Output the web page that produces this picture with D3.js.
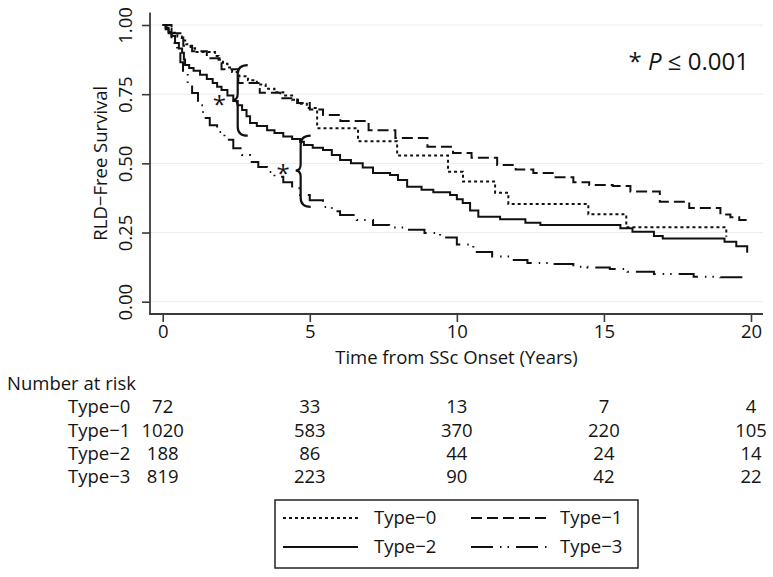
<!DOCTYPE html>
<html><head><meta charset="utf-8">
<script src="https://cdn.jsdelivr.net/npm/d3@7"></script>
<style>body{margin:0;background:#fff}svg{display:block}text{font-family:"Open Sans",sans-serif;fill:#141414}</style>
</head><body><svg id="c" width="773" height="577"></svg>
<script>
// ---------- data ----------
const timeTicks = [0, 5, 10, 15, 20];
const survTicks = [0, 0.25, 0.5, 0.75, 1];
const groups = ["Type−0", "Type−1", "Type−2", "Type−3"];

const t0 = [0,0.15,0.3,0.5,0.65,0.8,0.95,1.1,1.78,1.9,2.05,2.2,2.36,2.6,2.9,3.2,3.5,3.8,4.1,4.4,4.6,4.9,5.25,6.64,7.97,9.70,10.21,11.30,11.75,14.47,15.76,19.16];
const s0 = [1,0.986,0.972,0.958,0.944,0.93,0.916,0.902,0.888,0.874,0.86,0.846,0.83,0.815,0.80,0.785,0.77,0.757,0.745,0.73,0.715,0.70,0.627,0.58,0.528,0.47,0.434,0.394,0.353,0.316,0.269,0.235];

const t1 = [0,0.3,0.7,1.0,1.5,2.0,2.57,3.3,4.0,4.57,5.0,5.45,6.04,7.0,7.91,9.0,9.87,10.5,11.37,12.0,12.6,13.3,13.96,14.5,15.3,15.9,16.9,17.9,18.96,19.3,19.6,19.87];
const s1 = [1,0.97,0.925,0.905,0.88,0.84,0.79,0.755,0.735,0.718,0.695,0.675,0.653,0.62,0.592,0.56,0.537,0.52,0.494,0.478,0.465,0.45,0.432,0.422,0.418,0.398,0.361,0.339,0.315,0.305,0.295,0.285];

const t2 = [0,0.1,0.2,0.3,0.42,0.55,0.66,0.72,0.76,0.9,1.05,1.27,1.5,1.7,1.85,2.0,2.2,2.4,2.55,2.7,2.85,2.97,3.2,3.55,3.8,4.1,4.4,4.67,4.8,5.1,5.45,5.75,6.03,6.4,6.8,7.15,7.73,8.0,8.31,8.8,9.2,9.77,10.0,10.2,10.45,10.73,11.47,12.33,12.84,15.56,15.97,16.7,17.0,19.1,19.5,19.87];
const s2 = [1,0.99,0.975,0.96,0.935,0.915,0.9,0.875,0.855,0.845,0.835,0.82,0.805,0.79,0.777,0.765,0.745,0.725,0.71,0.693,0.67,0.646,0.635,0.62,0.61,0.597,0.588,0.578,0.566,0.556,0.548,0.53,0.512,0.5,0.485,0.465,0.458,0.44,0.415,0.405,0.396,0.386,0.37,0.357,0.33,0.307,0.298,0.285,0.277,0.265,0.253,0.237,0.228,0.217,0.2,0.177];

const t3 = [0,0.1,0.2,0.3,0.4,0.49,0.6,0.69,0.85,1.0,1.2,1.37,1.6,1.85,2.1,2.4,2.7,2.97,3.25,3.55,3.8,4.1,4.4,4.67,5.0,5.45,5.75,6.03,6.6,7.15,7.7,8.3,8.9,9.43,10.0,10.56,11.2,11.8,12.4,13.2,13.96,14.44,15.2,15.8,16.7,18.05,18.96,19.74,19.85];
const s3 = [1,0.985,0.97,0.95,0.925,0.904,0.865,0.83,0.79,0.754,0.71,0.664,0.638,0.613,0.585,0.555,0.53,0.505,0.487,0.469,0.452,0.432,0.41,0.386,0.367,0.342,0.327,0.313,0.295,0.277,0.268,0.26,0.248,0.232,0.207,0.18,0.163,0.151,0.14,0.136,0.126,0.124,0.118,0.108,0.1,0.09,0.088,0.078,0.078];

const riskTimes = [0, 5, 10, 15, 20];
const risk0 = [72, 33, 13, 7, 4];
const risk1 = [1020, 583, 370, 220, 105];
const risk2 = [188, 86, 44, 24, 14];
const risk3 = [819, 223, 90, 42, 22];

// annotation braces: time, top, middle, bottom survival
const braceT = [2.55, 4.69];
const braceTop = [0.855, 0.6];
const braceMid = [0.729, 0.474];
const braceBot = [0.6, 0.343];
const starT = [1.93, 4.09];
const starV = [0.729, 0.478];

// ---------- drawing ----------
const svg = d3.select("#c");
svg.append("rect").attr("width",773).attr("height",577).attr("fill","#fff");
const frame = {l:150, r:763, t:12.4, b:314};
const x = d3.scaleLinear().domain([0,20]).range([162.7,751]);
const y = d3.scaleLinear().domain([0,1]).range([301.7,25]);
const ink = "#111", axisCol = "#3a3a3a";
const FS = 18.5;

// grid
svg.append("g").selectAll("line").data(survTicks).join("line")
  .attr("x1",frame.l).attr("x2",frame.r)
  .attr("y1",d=>y(d)).attr("y2",d=>y(d))
  .attr("stroke","#ececec").attr("stroke-width",1);

// y axis
const gy = svg.append("g").attr("transform",`translate(${frame.l},0)`)
  .call(d3.axisLeft(y).tickValues(survTicks).tickSize(8).tickFormat(d3.format(".2f")));
gy.select(".domain").remove();
gy.selectAll(".tick line").attr("stroke",axisCol).attr("stroke-width",1.6);
gy.selectAll(".tick text").attr("font-size",FS).attr("font-family","Open Sans")
  .attr("fill","#141414").attr("text-anchor","middle")
  .attr("x",0).attr("dy",0)
  .attr("transform","rotate(-90) translate(0,-18)");
svg.append("line").attr("x1",frame.l).attr("x2",frame.l).attr("y1",frame.t).attr("y2",frame.b+0.8)
  .attr("stroke",axisCol).attr("stroke-width",1.8);

// x axis
const gx = svg.append("g").attr("transform",`translate(0,${frame.b})`)
  .call(d3.axisBottom(x).tickValues(timeTicks).tickSize(8).tickFormat(d3.format("d")));
gx.select(".domain").remove();
gx.selectAll(".tick line").attr("stroke",axisCol).attr("stroke-width",1.6);
gx.selectAll(".tick text").attr("font-size",FS).attr("font-family","Open Sans")
  .attr("fill","#141414").attr("y",11).attr("dy","0.71em");
svg.append("line").attr("x1",frame.l-0.8).attr("x2",frame.r).attr("y1",frame.b).attr("y2",frame.b)
  .attr("stroke",axisCol).attr("stroke-width",1.8);

// axis titles
svg.append("text").attr("x",(frame.l+frame.r)/2).attr("y",364).attr("text-anchor","middle")
  .attr("font-size",FS).text("Time from SSc Onset (Years)");
svg.append("text").attr("transform",`translate(107,${(frame.t+frame.b)/2}) rotate(-90)`)
  .attr("text-anchor","middle").attr("font-size",FS).text("RLD−Free Survival");

// curves
const series = [
  {t:t0, s:s0, dash:"3,3"},
  {t:t1, s:s1, dash:"11,5"},
  {t:t2, s:s2, dash:null},
  {t:t3, s:s3, dash:"22,7,1.5,6,1.5,7"}
];
const line = d3.line().x(d=>x(d[0])).y(d=>y(d[1])).curve(d3.curveStepAfter);
series.forEach(se=>{
  const pts = se.t.map((t,i)=>[t,se.s[i]]);
  svg.append("path").attr("d",line(pts)).attr("fill","none")
    .attr("stroke",ink).attr("stroke-width",2)
    .attr("stroke-dasharray",se.dash);
});

// braces + asterisks
function bracePath(xc, top, mid, bot){
  const w = 10, tip = 5, r = 9;
  return `M${xc+w},${top} Q${xc},${top} ${xc},${top+r}`+
    ` L${xc},${mid-r*0.7} Q${xc},${mid} ${xc-tip},${mid}`+
    ` Q${xc},${mid} ${xc},${mid+r*0.7}`+
    ` L${xc},${bot-r} Q${xc},${bot} ${xc+w},${bot}`;
}
braceT.forEach((bt,i)=>{
  svg.append("path").attr("d",bracePath(x(bt),y(braceTop[i]),y(braceMid[i]),y(braceBot[i])))
    .attr("fill","none").attr("stroke",ink).attr("stroke-width",2.2);
  svg.append("text").attr("x",x(starT[i])).attr("y",y(starV[i])+13)
    .attr("text-anchor","middle").attr("font-size",24).text("*");
});

// p value
const pv = svg.append("text").attr("x",749).attr("y",70).attr("text-anchor","end")
  .attr("font-family","Liberation Sans, Arial, sans-serif").attr("font-size",24);
pv.append("tspan").text("* ");
pv.append("tspan").attr("font-style","italic").text("P");
pv.append("tspan").text(" ≤ 0.001");

// number at risk table
svg.append("text").attr("x",7).attr("y",390).attr("font-size",FS).text("Number at risk");
const risks = [risk0, risk1, risk2, risk3];
risks.forEach((r,i)=>{
  const by = 413.3 + i*23.2;
  svg.append("text").attr("x",68).attr("y",by).attr("font-size",FS).text(groups[i]);
  riskTimes.forEach((t,j)=>{
    svg.append("text").attr("x",x(t)).attr("y",by).attr("text-anchor","middle")
      .attr("font-size",FS).text(r[j]);
  });
});

// legend
svg.append("rect").attr("x",275).attr("y",500).attr("width",363).attr("height",68)
  .attr("fill","none").attr("stroke","#222").attr("stroke-width",1.5);
const legPos = [[283,358,374,524],[471,550,560,524],[283,358,374,553],[471,550,560,553]];
series.forEach((se,i)=>{
  const p = legPos[i];
  svg.append("line").attr("x1",p[0]).attr("x2",p[1]).attr("y1",p[3]-6).attr("y2",p[3]-6)
    .attr("stroke",ink).attr("stroke-width",2).attr("stroke-dasharray",se.dash);
  svg.append("text").attr("x",p[2]).attr("y",p[3]).attr("font-size",FS).text(groups[i]);
});
</script></body></html>
